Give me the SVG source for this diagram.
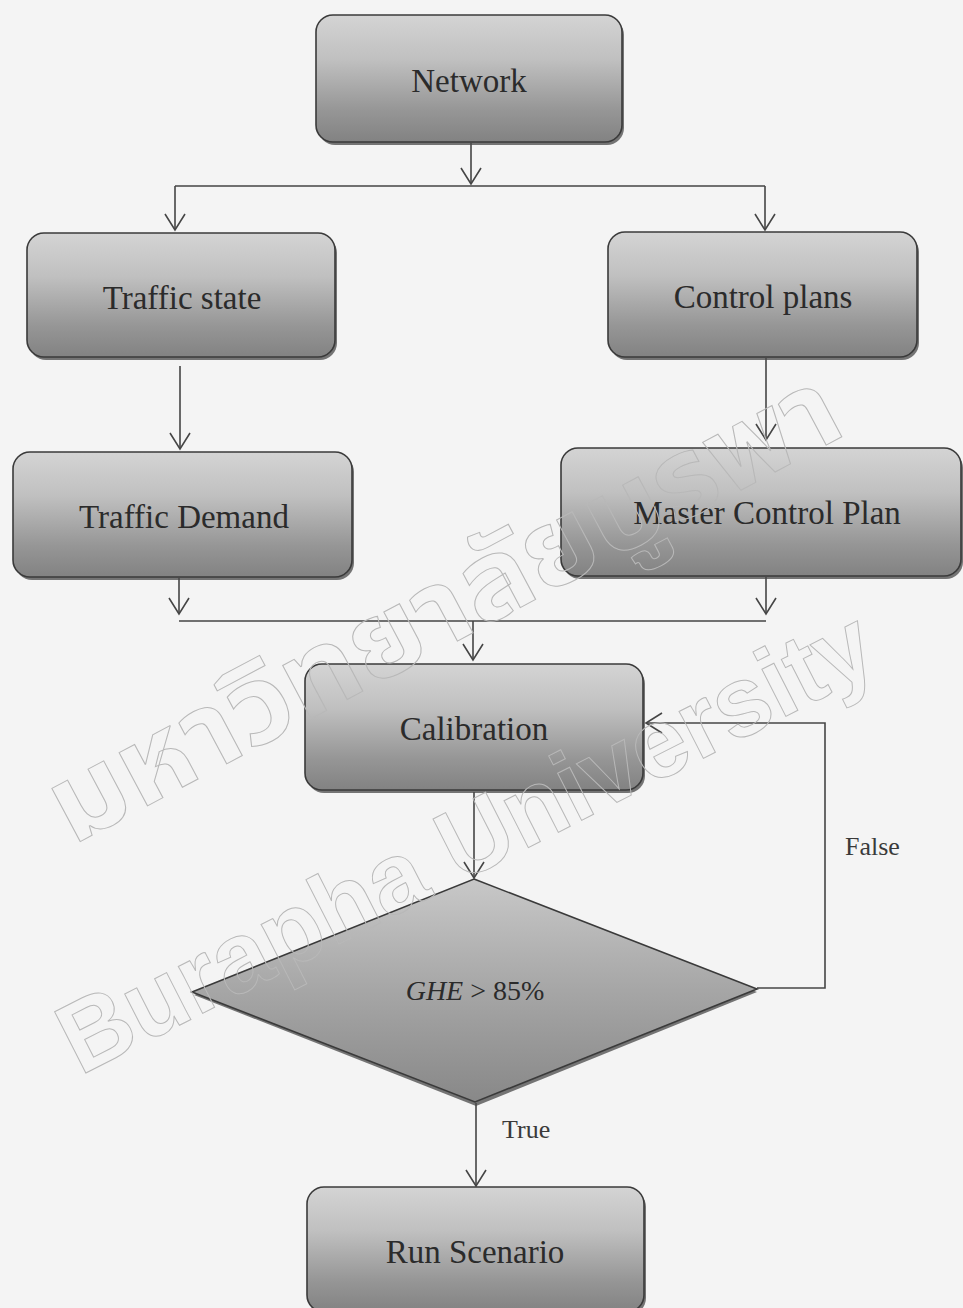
<svg xmlns="http://www.w3.org/2000/svg" width="963" height="1308" viewBox="0 0 963 1308">
<defs>
<linearGradient id="boxg" x1="0" y1="0" x2="0" y2="1">
<stop offset="0" stop-color="#d4d4d4"/>
<stop offset="0.35" stop-color="#c0c0c0"/>
<stop offset="0.75" stop-color="#969696"/>
<stop offset="1" stop-color="#828282"/>
</linearGradient>
<linearGradient id="diag" x1="0" y1="0" x2="0" y2="1">
<stop offset="0" stop-color="#c8c8c8"/>
<stop offset="0.5" stop-color="#a6a6a6"/>
<stop offset="1" stop-color="#888888"/>
</linearGradient>
<marker id="arr" markerUnits="userSpaceOnUse" markerWidth="20" markerHeight="22" refX="16" refY="10" orient="auto" overflow="visible">
<path d="M0,0 L16,10 L0,20" fill="none" stroke="#454545" stroke-width="1.6"/>
</marker>
</defs>
<style>
.box{fill:url(#boxg);stroke:#3a3a3a;stroke-width:1.6}
.shadow{fill:#4a4a4a;opacity:0.75}
.lbl{font-family:"Liberation Serif","Times New Roman",serif;font-size:33px;fill:#2b2b2b;text-anchor:middle}
.small{font-family:"Liberation Serif","Times New Roman",serif;font-size:26px;fill:#3a3a3a}
.conn{fill:none;stroke:#454545;stroke-width:1.6}
.wm{fill:none;stroke:#b8b8b8;stroke-width:1;font-weight:bold}
.th{font-family:"Noto Sans Thai","Liberation Sans",Arial,sans-serif}
.en{font-family:"Liberation Sans",Arial,sans-serif}
</style>
<rect x="0" y="0" width="963" height="1308" fill="#f4f4f4"/>

<g id="connectors">
<path class="conn" d="M471,143 V184" marker-end="url(#arr)"/>
<path class="conn" d="M175,186 H765"/>
<path class="conn" d="M175,186 V230" marker-end="url(#arr)"/>
<path class="conn" d="M765,186 V230" marker-end="url(#arr)"/>
<path class="conn" d="M180,366 V449" marker-end="url(#arr)"/>
<path class="conn" d="M766,358 V440" marker-end="url(#arr)"/>
<path class="conn" d="M179,578 V614" marker-end="url(#arr)"/>
<path class="conn" d="M766,577 V614" marker-end="url(#arr)"/>
<path class="conn" d="M179,621 H766"/>
<path class="conn" d="M473,621 V660" marker-end="url(#arr)"/>
<path class="conn" d="M474,792 V878" marker-end="url(#arr)"/>
<path class="conn" d="M757,988 H825 V723 H646" marker-end="url(#arr)"/>
<path class="conn" d="M476,1103 V1186" marker-end="url(#arr)"/>
<text class="small" x="845" y="855">False</text>
<text class="small" x="502" y="1138">True</text>
</g>

<g id="network">
<rect class="shadow" x="318" y="18" width="306" height="127" rx="17"/>
<rect class="box" x="316" y="15" width="306" height="127" rx="17"/>
<text class="lbl" x="469" y="92">Network</text>
</g>
<g id="traffic-state">
<rect class="shadow" x="29" y="236" width="308" height="124" rx="17"/>
<rect class="box" x="27" y="233" width="308" height="124" rx="17"/>
<text class="lbl" x="182" y="309">Traffic state</text>
</g>
<g id="control-plans">
<rect class="shadow" x="610" y="235" width="309" height="125" rx="17"/>
<rect class="box" x="608" y="232" width="309" height="125" rx="17"/>
<text class="lbl" x="763" y="308">Control plans</text>
</g>
<g id="traffic-demand">
<rect class="shadow" x="15" y="455" width="339" height="125" rx="17"/>
<rect class="box" x="13" y="452" width="339" height="125" rx="17"/>
<text class="lbl" x="184" y="528">Traffic Demand</text>
</g>
<g id="master-control-plan">
<rect class="shadow" x="563" y="451" width="400" height="128" rx="17"/>
<rect class="box" x="561" y="448" width="400" height="128" rx="17"/>
<text class="lbl" x="767" y="524">Master Control Plan</text>
</g>
<g id="calibration">
<rect class="shadow" x="307" y="667" width="338" height="126" rx="17"/>
<rect class="box" x="305" y="664" width="338" height="126" rx="17"/>
<text class="lbl" x="474" y="740">Calibration</text>
</g>
<g id="decision">
<polygon points="474,882 757,992 476,1106 194,995" fill="#4a4a4a" opacity="0.75"/>
<polygon points="474,879 757,989 475,1102 192,992" fill="url(#diag)" stroke="#3a3a3a" stroke-width="1.6"/>
<text x="475" y="1000" text-anchor="middle" font-family="'Liberation Serif','Times New Roman',serif" font-size="28" fill="#2b2b2b"><tspan font-style="italic">GHE</tspan> &gt; 85%</text>
</g>
<g id="run-scenario">
<rect class="shadow" x="309" y="1190" width="337" height="125" rx="17"/>
<rect class="box" x="307" y="1187" width="337" height="125" rx="17"/>
<text class="lbl" x="475" y="1263">Run Scenario</text>
</g>

<g id="watermark">
<text class="wm th" transform="translate(72,846) rotate(-28)" x="0" y="0" font-size="110" textLength="880" lengthAdjust="spacingAndGlyphs">มหาวิทยาลัยบูรพา</text>
<text class="wm en" transform="translate(80,1076) rotate(-27)" x="0" y="0" font-size="100" textLength="900" lengthAdjust="spacingAndGlyphs">Burapha University</text>
</g>
</svg>
